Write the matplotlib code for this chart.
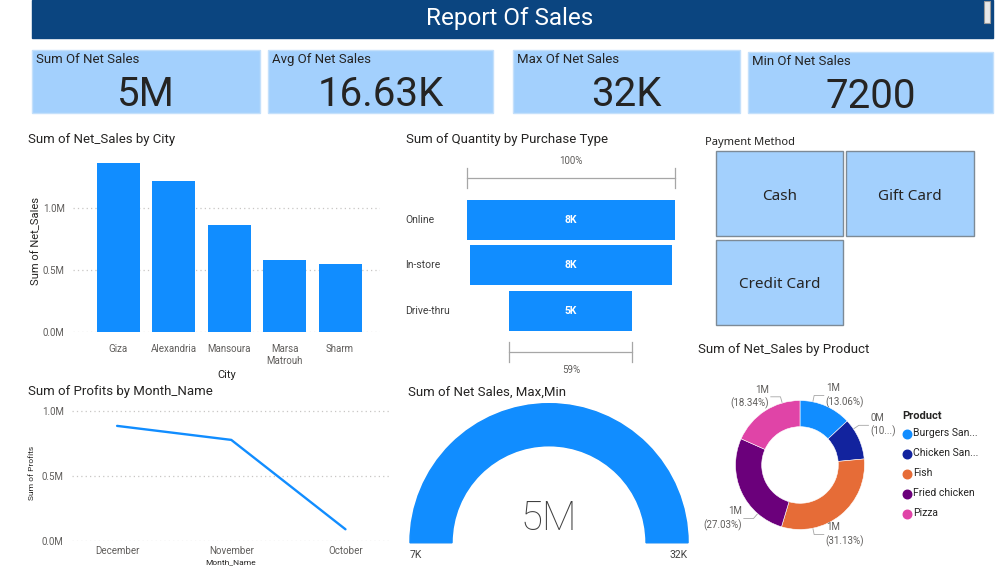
import numpy as np
import matplotlib
matplotlib.use("Agg")
import matplotlib.pyplot as plt
from matplotlib.patches import Rectangle, Wedge
from matplotlib.ticker import FuncFormatter

W, H = 1000, 570

# ---- data ----
report_title = "Report Of Sales"
kpi_labels = ["Sum Of Net Sales", "Avg Of Net Sales", "Max Of Net Sales", "Min Of Net Sales"]
kpi_values = ["5M", "16.63K", "32K", "7200"]

cities = ["Giza", "Alexandria", "Mansoura", "Marsa\nMatrouh", "Sharm"]
city_sales = [1363000, 1215000, 860000, 580000, 546000]

purchase_types = ["Online", "In-store", "Drive-thru"]
purchase_qty = [8300, 8050, 4900]

payment_methods = ["Cash", "Gift Card", "Credit Card"]

months = ["December", "November", "October"]
month_profits = [885000, 777000, 88000]

gauge_value = 4562000
gauge_min = 7200
gauge_max = 32000

products = ["Burgers San...", "Chicken San...", "Fish", "Fried chicken", "Pizza"]
product_sales = [595800, 476300, 1420100, 1233100, 836700]

# ---- style ----
BLUE = "#118DFF"
HEADER = "#0B4580"
CARD = "#A3D0FD"
TEXT = "#252423"
GRAY = "#605E5C"
GRID = "#C8C6C4"
product_colors = ["#118DFF", "#12239E", "#E66C37", "#6B007B", "#E044A7"]
# where the donut leader lines leave the ring (degrees), as Power BI placed them
label_angles = [78.5, 34, -78.5, -131, 106]

plt.rcParams["font.family"] = ["Roboto", "DejaVu Sans"]
SEGOE = ["Noto Sans", "DejaVu Sans"]


def box(x0, y0, x1, y1):
    # pixel box (top-left origin) -> figure fraction
    return [x0 / W, 1 - y1 / H, (x1 - x0) / W, (y1 - y0) / H]


def style_axes(ax):
    for s in ax.spines.values():
        s.set_visible(False)
    ax.tick_params(length=0, labelsize=7, labelcolor=GRAY)
    ax.yaxis.grid(True, linestyle=(0, (1, 2.5)), color=GRID, linewidth=0.9)
    ax.set_axisbelow(True)
    ax.yaxis.set_major_formatter(FuncFormatter(lambda v, p: f"{v / 1e6:.1f}M"))


fig = plt.figure(figsize=(10, 5.7), dpi=100)
ov = fig.add_axes([0, 0, 1, 1], zorder=0)
ov.set_xlim(0, W)
ov.set_ylim(H, 0)
ov.axis("off")

# header
ov.add_patch(Rectangle((32, 0), 961, 38, color=HEADER))
ov.text(510, 18, report_title, color="white", fontsize=17.5, ha="center", va="center")
ov.add_patch(Rectangle((984, 1), 6, 22, facecolor="#E8E8E8", edgecolor="#9A9A9A", lw=0.8))

# KPI cards
cards = [(32, 50, 260, 113), (268, 50, 493, 113), (513, 50, 740, 113), (748, 52, 993, 113)]
for (x0, y0, x1, y1), lab, val in zip(cards, kpi_labels, kpi_values):
    ov.add_patch(Rectangle((x0, y0), x1 - x0, y1 - y0, facecolor=CARD, edgecolor="#C4E0FB", lw=1))
    ov.text(x0 + 4, y0 + 9.5, lab, fontsize=9.5, color=TEXT, va="center")
    ov.text((x0 + x1) / 2, y0 + 45, val, fontsize=29, color=TEXT, ha="center", va="center")

# panel titles
titles = [
    (28, 139, "Sum of Net_Sales by City"),
    (406, 139, "Sum of Quantity by Purchase Type"),
    (28, 392, "Sum of Profits by Month_Name"),
    (408, 392, "Sum of Net Sales, Max,Min"),
    (698, 350, "Sum of Net_Sales by Product"),
]
for x, y, t in titles:
    ov.text(x, y, t, fontsize=9.5, color=TEXT, va="center")

# ---- bar chart by city ----
ax1 = fig.add_axes(box(73, 150, 380, 331.7))
ax1.bar(range(len(cities)), city_sales, width=0.775, color=BLUE)
ax1.set_xlim(-0.82, 4.72)
ax1.set_ylim(0, 1.465e6)
ax1.set_yticks([0, 0.5e6, 1.0e6])
ax1.set_xticks(range(len(cities)))
ax1.set_xticklabels(cities, linespacing=1.2)
style_axes(ax1)
ax1.tick_params(axis="x", pad=9)
ax1.tick_params(axis="y", pad=6)
ax1.set_xlabel("City", fontsize=8, color=TEXT, labelpad=3)
ax1.set_ylabel("Sum of Net_Sales", fontsize=8, color=TEXT, labelpad=1)

# ---- funnel ----
ax2 = fig.add_axes(box(466.7, 160, 675, 372))
qmax = max(purchase_qty)
ax2.barh(range(len(purchase_types)), purchase_qty, left=[-q / 2 for q in purchase_qty],
         height=0.88, color=BLUE)
ax2.set_xlim(-qmax / 2, qmax / 2)
ax2.set_ylim(3.35, -1.32)
ax2.axis("off")
for i, (name, q) in enumerate(zip(purchase_types, purchase_qty)):
    ax2.text(0, i, f"{q / 1000:.0f}K", color="white", fontsize=7.5, fontweight="bold",
             ha="center", va="center")
    ax2.text(-0.296, i, name, transform=ax2.get_yaxis_transform(), fontsize=7.5,
             color="#404040", ha="left", va="center")
for q, yb, ytxt in [(purchase_qty[0], -0.925, -1.30), (purchase_qty[-1], 2.907, 3.30)]:
    ax2.plot([-q / 2, q / 2], [yb, yb], color="#A6A6A6", lw=0.9, clip_on=False)
    for xe in (-q / 2, q / 2):
        ax2.plot([xe, xe], [yb - 0.22, yb + 0.22], color="#A6A6A6", lw=0.9, clip_on=False)
    ax2.text(0, ytxt, f"{q / qmax * 100:.0f}%", fontsize=7, color=GRAY, ha="center",
             va="center", clip_on=False)

# ---- payment method slicer ----
ov.text(705, 142, "Payment Method", fontsize=8, color=TEXT, va="center", family=SEGOE)
tiles = [(716, 151, 843, 236), (846, 151, 974, 236), (716, 240, 843, 325)]
for (x0, y0, x1, y1), name in zip(tiles, payment_methods):
    ov.add_patch(Rectangle((x0, y0), x1 - x0, y1 - y0, facecolor=CARD, edgecolor="#7D8A96", lw=1))
    ov.text((x0 + x1) / 2, (y0 + y1) / 2 + 2.5, name, fontsize=11, color=TEXT, ha="center",
            va="center", family=SEGOE)

# ---- line chart by month ----
ax5 = fig.add_axes(box(72, 405, 390, 540.7))
ax5.plot(range(len(months)), month_profits, color=BLUE, lw=1.7, solid_capstyle="round")
ax5.set_xlim(-0.395, 2.39)
ax5.set_ylim(0, 1.046e6)
ax5.set_yticks([0, 0.5e6, 1.0e6])
ax5.set_xticks(range(len(months)))
ax5.set_xticklabels(months)
style_axes(ax5)
ax5.tick_params(axis="x", pad=4)
ax5.tick_params(axis="y", pad=6)
ax5.set_xlabel("Month_Name", fontsize=6, color=TEXT, labelpad=2)
ax5.set_ylabel("Sum of Profits", fontsize=6, color=TEXT, labelpad=5)

# ---- gauge ----
ax3 = fig.add_axes(box(400, 398, 700, 565))
ax3.set_xlim(-1.072, 1.086)
ax3.set_ylim(-0.16, 1.041)
ax3.axis("off")
frac = float(np.clip((gauge_value - gauge_min) / (gauge_max - gauge_min), 0, 1))
ax3.add_patch(Wedge((0, 0), 1, 0, 180, width=1 - 0.698, color="#E6E6E6"))
ax3.add_patch(Wedge((0, 0), 1, 180 - 180 * frac, 180, width=1 - 0.698, color=BLUE))
ax3.text(0, 0.175, f"{gauge_value / 1e6:.0f}M", fontsize=29, color="#404040", ha="center",
         va="center", fontweight="light")
ax3.text(-1.0, -0.088, f"{gauge_min / 1000:.0f}K", fontsize=7.5, color="#404040", ha="left", va="center")
ax3.text(1.0, -0.088, f"{gauge_max / 1000:.0f}K", fontsize=7.5, color="#404040", ha="right", va="center")

# ---- donut by product ----
ax4 = fig.add_axes(box(700, 380, 900, 560))
wedges, _ = ax4.pie(product_sales, colors=product_colors, startangle=90, counterclock=False,
                    radius=1, wedgeprops=dict(width=0.406, edgecolor="white", linewidth=0.4))
ax4.set_xlim(-1.55, 1.55)
ax4.set_ylim(-1.473, 1.318)
total = sum(product_sales)
for ang, v in zip(label_angles, product_sales):
    th = np.deg2rad(ang)
    c, s = np.cos(th), np.sin(th)
    side = 1 if c >= 0 else -1
    x1, y1 = 1.1 * c, 1.1 * s
    x2 = x1 + side * 0.15
    ax4.plot([1.01 * c, x1, x2], [1.01 * s, y1, y1], color="#A6A6A6", lw=0.6, clip_on=False)
    pct = f"({v / total * 100:.2f}%)"
    if c > 0.8:
        pct = pct[:3] + "...)"
    ax4.text(x2 + side * 0.03, y1, f"{v / 1e6:.0f}M\n{pct}", fontsize=7, color=GRAY,
             ha="left" if side > 0 else "right", va="center", linespacing=1.3,
             multialignment="left" if side > 0 else "right", clip_on=False)

ov.text(902, 416, "Product", fontsize=8, color=TEXT, fontweight="bold", va="center")
for i, (name, col) in enumerate(zip(products, product_colors)):
    y = 433.5 + i * 20
    ov.scatter([907], [y], s=38, color=col, zorder=3)
    ov.text(913, y, name, fontsize=7.5, color=TEXT, va="center")

fig.savefig("out.png", dpi=100)
